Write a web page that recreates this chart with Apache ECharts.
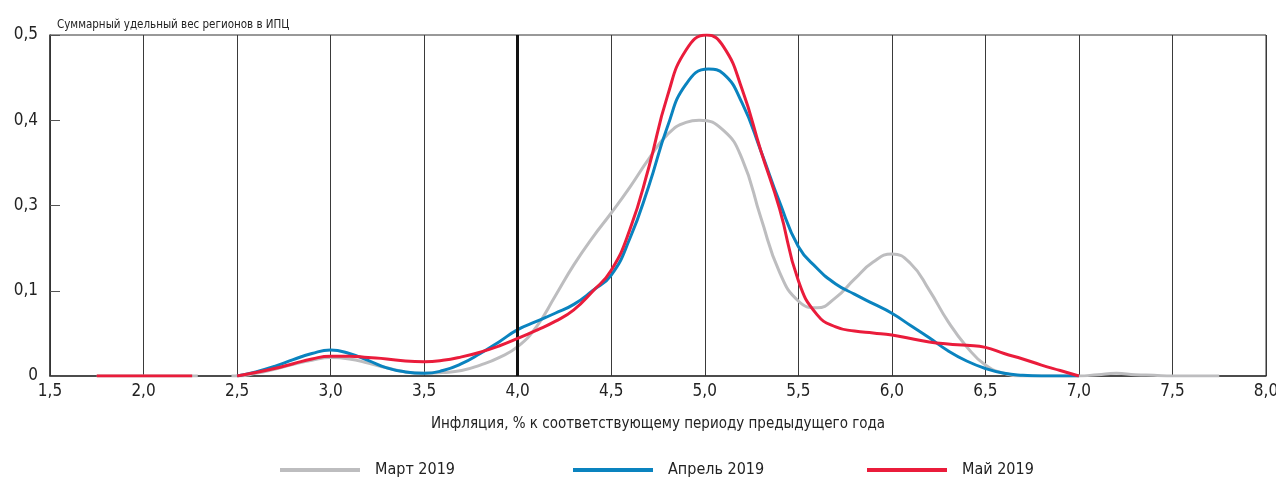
<!DOCTYPE html>
<html>
<head>
<meta charset="utf-8">
<script src="https://cdn.jsdelivr.net/npm/echarts@6/dist/echarts.min.js"></script>
<style>
html,body{margin:0;padding:0;background:#fff;}
#chart{width:1276px;height:478px;}
</style>
</head>
<body>
<div id="chart"></div>
<script>
var FONT = "'Liberation Sans Narrow', 'DejaVu Sans Condensed', 'Roboto Condensed', sans-serif";

var seriesNames = ['Март 2019', 'Апрель 2019', 'Май 2019'];
var yTickLabels = ['0', '0,1', '0,3', '0,4', '0,5'];
var xTickValues = [1.5, 2.0, 2.5, 3.0, 3.5, 4.0, 4.5, 5.0, 5.5, 6.0, 6.5, 7.0, 7.5, 8.0];
var targetX = 4.0;

var march = [
  [1.75, 0], [2.29, 0], [2.38, null],
  [2.47, 0], [2.5, 0], [2.6, 0.004], [2.7, 0.01], [2.8, 0.017], [2.9, 0.023],
  [3.0, 0.027], [3.1, 0.025], [3.2, 0.019], [3.3, 0.012], [3.4, 0.006],
  [3.5, 0.004], [3.6, 0.005], [3.7, 0.008], [3.8, 0.016], [3.9, 0.027],
  [4.0, 0.043], [4.1, 0.072], [4.2, 0.117], [4.3, 0.163], [4.4, 0.203],
  [4.5, 0.239], [4.6, 0.277], [4.7, 0.318], [4.8, 0.354], [4.9, 0.372],
  [4.97, 0.375], [5.1, 0.36], [5.2, 0.318], [5.3, 0.232], [5.4, 0.152],
  [5.5, 0.11], [5.6, 0.1], [5.7, 0.115], [5.8, 0.142], [5.9, 0.167],
  [6.0, 0.179], [6.1, 0.165], [6.2, 0.126], [6.3, 0.08], [6.4, 0.043],
  [6.5, 0.016], [6.6, 0.004], [6.7, 0], [6.8, 0], [6.9, 0], [7.0, 0],
  [7.1, 0.002], [7.2, 0.004], [7.3, 0.002], [7.4, 0.001], [7.5, 0],
  [7.6, 0], [7.75, 0]
];
var april = [
  [2.5, 0], [2.6, 0.006], [2.7, 0.014], [2.8, 0.024], [2.9, 0.033],
  [3.0, 0.038], [3.1, 0.033], [3.2, 0.023], [3.3, 0.012], [3.4, 0.006],
  [3.5, 0.004], [3.6, 0.008], [3.7, 0.018], [3.8, 0.033], [3.9, 0.05],
  [4.0, 0.068], [4.1, 0.08], [4.2, 0.092], [4.3, 0.105], [4.4, 0.125],
  [4.5, 0.148], [4.6, 0.202], [4.7, 0.278], [4.8, 0.365], [4.9, 0.428],
  [5.02, 0.45], [5.1, 0.443], [5.2, 0.4], [5.3, 0.33], [5.4, 0.255],
  [5.5, 0.19], [5.6, 0.158], [5.7, 0.135], [5.8, 0.12], [5.9, 0.106],
  [6.0, 0.092], [6.1, 0.074], [6.2, 0.056], [6.3, 0.037], [6.4, 0.022],
  [6.5, 0.011], [6.6, 0.004], [6.7, 0.001], [6.8, 0], [6.9, 0], [7.0, 0]
];
var may = [
  [1.75, 0], [2.26, 0], [2.38, null],
  [2.5, 0], [2.6, 0.005], [2.7, 0.011], [2.8, 0.018], [2.9, 0.025],
  [3.0, 0.029], [3.1, 0.029], [3.2, 0.027], [3.3, 0.025], [3.4, 0.022],
  [3.5, 0.021], [3.6, 0.023], [3.7, 0.028], [3.8, 0.035], [3.9, 0.044],
  [4.0, 0.055], [4.1, 0.067], [4.2, 0.08], [4.3, 0.097], [4.4, 0.124],
  [4.5, 0.155], [4.6, 0.215], [4.7, 0.305], [4.8, 0.41], [4.9, 0.478],
  [5.01, 0.5], [5.1, 0.483], [5.2, 0.42], [5.3, 0.33], [5.4, 0.245],
  [5.5, 0.14], [5.6, 0.09], [5.7, 0.072], [5.8, 0.066], [5.9, 0.063],
  [6.0, 0.06], [6.1, 0.055], [6.2, 0.05], [6.3, 0.047], [6.4, 0.045],
  [6.5, 0.042], [6.6, 0.033], [6.7, 0.025], [6.8, 0.016], [6.9, 0.008],
  [7.0, 0]
];

var colors = ['#bdbdbf', '#0a83bf', '#ea1c3b'];
var dataList = [march, april, may];
var legendLeft = [275, 568, 862];

var chart = echarts.init(document.getElementById('chart'), null, {renderer: 'canvas'});

var series = dataList.map(function (d, i) {
  var s = {
    name: seriesNames[i],
    type: 'line',
    data: d,
    smooth: 0.5,
    symbol: 'none',
    connectNulls: false,
    lineStyle: {color: colors[i], width: 3},
    itemStyle: {color: colors[i]},
    z: 3 + i,
    animation: false
  };
  if (i === 0) {
    s.markLine = {
      silent: true,
      symbol: ['none', 'none'],
      label: {show: false},
      lineStyle: {color: '#111', width: 3, type: 'solid'},
      data: [{xAxis: targetX}],
      animation: false
    };
  }
  return s;
});

var legends = seriesNames.map(function (n, i) {
  return {
    data: [n],
    left: legendLeft[i],
    top: 457,
    icon: 'rect',
    itemWidth: 80,
    itemHeight: 4,
    textStyle: {fontFamily: FONT, fontSize: 16, color: '#222', padding: [0, 0, 0, 10]},
    selectedMode: false
  };
});

chart.setOption({
  animation: false,
  backgroundColor: '#fff',
  title: {
    text: 'Суммарный удельный вес регионов в ИПЦ',
    left: 52,
    top: 14,
    textStyle: {fontFamily: FONT, fontSize: 11.5, fontWeight: 'normal', color: '#222'}
  },
  legend: legends,
  grid: {
    left: 50, right: 10, top: 35, bottom: 102,
    outerBoundsMode: 'none',
    containLabel: false,
    show: true, borderColor: '#333', borderWidth: 1, backgroundColor: 'transparent'
  },
  xAxis: {
    type: 'value',
    min: xTickValues[0],
    max: xTickValues[xTickValues.length - 1],
    interval: 0.5,
    name: 'Инфляция, % к соответствующему периоду предыдущего года',
    nameLocation: 'middle',
    nameGap: 41,
    nameTextStyle: {fontFamily: FONT, fontSize: 15, color: '#222', verticalAlign: 'top'},
    axisLine: {show: true, lineStyle: {color: '#333', width: 1.5}},
    axisTick: {show: false},
    axisLabel: {
      fontFamily: FONT, fontSize: 17, color: '#222', margin: 7,
      formatter: function (v) { return v.toFixed(1).replace('.', ','); }
    },
    splitLine: {show: true, lineStyle: {color: '#3a3a3a', width: 1}}
  },
  yAxis: {
    type: 'value',
    min: 0,
    max: 0.5,
    interval: 0.125,
    axisLine: {show: true, lineStyle: {color: '#333', width: 1.5}},
    axisTick: {show: true, inside: true, length: 10, lineStyle: {color: '#555'}},
    axisLabel: {
      fontFamily: FONT, fontSize: 17, color: '#222', margin: 12,
      formatter: function (v) { return yTickLabels[Math.round(v / 0.125)]; }
    },
    splitLine: {show: false}
  },
  series: series
});
</script>
</body>
</html>
